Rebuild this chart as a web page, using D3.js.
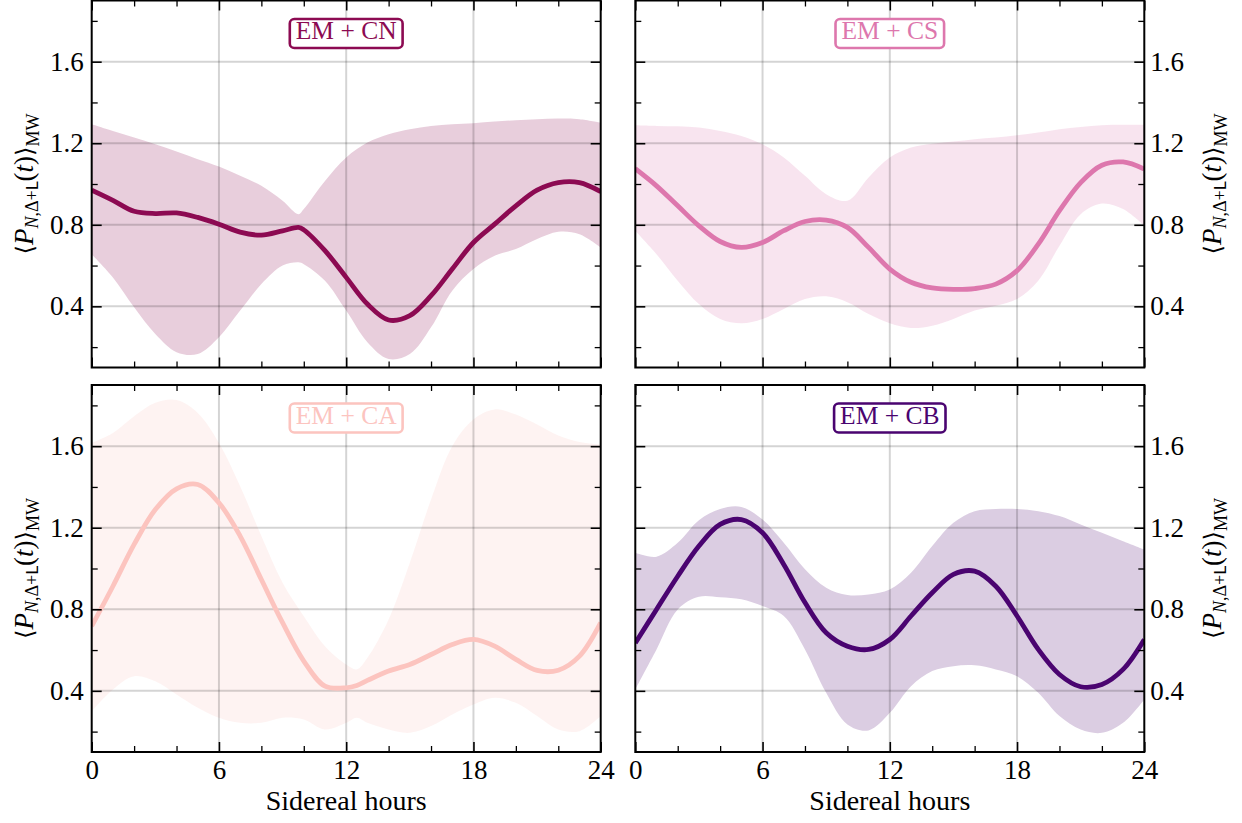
<!DOCTYPE html>
<html>
<head>
  <meta charset="utf-8">
  <title>Sidereal modulation</title>
  <script src="https://d3js.org/d3.v7.min.js"></script>
  <style>
    body { margin: 0; background: #fff; }
    svg text { font-family: "Liberation Serif", "DejaVu Serif", serif; }
  </style>
</head>
<body>
<script>
// panel names and colours
const names = ["EM + CN", "EM + CS", "EM + CA", "EM + CB"];
const colours = ["#8c0a52", "#dd77ad", "#fcc4bf", "#4a0470"];

// hours at which each curve was read
const cnHours = [0,1,2,3,4,5,6,7,8,9,9.75,10,11,12,13,14,15,16,17,18,19,20,21,22,23,24];
const csHours = [0,1,2,3,4,5,6,7,8,9,10,11,12,13,14,15,16,17,18,19,20,21,22,23,24];
const caHours = [0,1,2,3,4,5,6,7,8,9,10,11,12,12.5,13,14,15,16,17,18,19,20,21,22,23,24];
const cbHours = [0,1,2,3,4,5,6,7,8,9,10,11,12,13,14,15,16,17,18,19,20,21,22,23,24];

// EM + CN
const cnMean = [0.97,0.92,0.866,0.855,0.858,0.836,0.803,0.764,0.749,0.77,0.787,0.775,0.673,0.542,0.411,0.333,0.354,0.452,0.583,0.713,0.803,0.893,0.97,1.007,1.007,0.963];
const cnHigh = [1.293,1.26,1.228,1.195,1.159,1.122,1.086,1.04,0.991,0.918,0.852,0.877,1.015,1.13,1.203,1.244,1.269,1.285,1.293,1.298,1.306,1.313,1.318,1.321,1.318,1.301];
const cnLow  = [0.656,0.542,0.395,0.264,0.175,0.166,0.248,0.379,0.509,0.6,0.616,0.607,0.526,0.379,0.224,0.142,0.166,0.297,0.477,0.583,0.648,0.681,0.73,0.766,0.754,0.689];

// EM + CS
const csMean = [1.075,0.991,0.893,0.795,0.718,0.689,0.713,0.771,0.816,0.823,0.787,0.689,0.583,0.518,0.49,0.483,0.487,0.509,0.575,0.705,0.869,1.007,1.092,1.108,1.073];
const csHigh = [1.288,1.285,1.283,1.277,1.26,1.236,1.195,1.13,1.04,0.95,0.918,1.032,1.13,1.179,1.198,1.208,1.22,1.228,1.239,1.252,1.269,1.28,1.288,1.29,1.29];
const csLow  = [0.771,0.656,0.526,0.411,0.338,0.317,0.338,0.387,0.436,0.449,0.42,0.362,0.317,0.294,0.305,0.338,0.379,0.403,0.436,0.526,0.697,0.852,0.904,0.877,0.795];

// EM + CA
const caMean = [0.717,0.913,1.118,1.289,1.391,1.412,1.322,1.159,0.946,0.734,0.546,0.423,0.415,0.426,0.451,0.497,0.529,0.578,0.627,0.652,0.619,0.554,0.5,0.501,0.57,0.734];
const caHigh = [1.616,1.665,1.747,1.813,1.826,1.763,1.616,1.404,1.159,0.93,0.766,0.619,0.529,0.505,0.562,0.75,1.028,1.338,1.6,1.731,1.78,1.755,1.706,1.652,1.62,1.608];
const caLow  = [0.30,0.407,0.472,0.447,0.382,0.317,0.268,0.243,0.243,0.268,0.259,0.21,0.243,0.268,0.243,0.21,0.194,0.227,0.284,0.333,0.366,0.341,0.276,0.21,0.202,0.276];

// EM + CB
const cbMean = [0.635,0.799,0.962,1.11,1.216,1.24,1.175,1.02,0.833,0.685,0.619,0.603,0.652,0.767,0.881,0.971,0.987,0.913,0.767,0.603,0.48,0.42,0.431,0.505,0.652];
const cbHigh = [1.077,1.058,1.126,1.237,1.292,1.302,1.24,1.126,0.996,0.906,0.87,0.873,0.897,0.979,1.11,1.224,1.281,1.292,1.292,1.281,1.257,1.216,1.175,1.134,1.093];
const cbLow  = [0.407,0.603,0.799,0.861,0.859,0.849,0.816,0.767,0.603,0.39,0.235,0.206,0.292,0.423,0.497,0.521,0.525,0.505,0.472,0.39,0.276,0.21,0.194,0.243,0.358];

// ticks
const xMajor = [0, 6, 12, 18, 24];
const xMinor = [2, 4, 8, 10, 14, 16, 20, 22];
const yMajor = [0.4, 0.8, 1.2, 1.6];
const yMinor = [0.2, 0.6, 1.0, 1.4, 1.8];
const xLabel = "Sidereal hours";

const series = [
  { hours: cnHours, mean: cnMean, low: cnLow, high: cnHigh },
  { hours: csHours, mean: csMean, low: csLow, high: csHigh },
  { hours: caHours, mean: caMean, low: caLow, high: caHigh },
  { hours: cbHours, mean: cbMean, low: cbLow, high: cbHigh }
];

const W = 1242, H = 823;
const panelW = 509, panelH = 367;
const lefts = [91.7, 635.3];
const tops = [0.5, 385];
const serif = '"Liberation Serif", "DejaVu Serif", serif';

const svg = d3.select("body").append("svg")
  .attr("width", W).attr("height", H);

series.forEach(function (s, i) {
  const col = i % 2, row = Math.floor(i / 2);
  const g = svg.append("g")
    .attr("transform", "translate(" + lefts[col] + "," + tops[row] + ")");

  const x = d3.scaleLinear().domain([0, 24]).range([0, panelW]);
  const y = d3.scaleLinear().domain([0.1, 1.9]).range([panelH, 0]);

  g.append("clipPath").attr("id", "clip" + i)
    .append("rect").attr("width", panelW).attr("height", panelH);

  const pts = s.hours.map((h, k) => ({ h: h, m: s.mean[k], lo: s.low[k], hi: s.high[k] }));

  const area = d3.area()
    .curve(d3.curveCatmullRom.alpha(0.5))
    .x(d => x(d.h)).y0(d => y(d.lo)).y1(d => y(d.hi));
  const line = d3.line()
    .curve(d3.curveCatmullRom.alpha(0.5))
    .x(d => x(d.h)).y(d => y(d.m));

  const inner = g.append("g").attr("clip-path", "url(#clip" + i + ")");

  inner.append("path").datum(pts)
    .attr("d", area)
    .attr("fill", colours[i]).attr("fill-opacity", 0.2);

  // grid
  inner.selectAll(".gx").data(xMajor.slice(1, -1)).enter().append("line")
    .attr("x1", d => x(d)).attr("x2", d => x(d))
    .attr("y1", 0).attr("y2", panelH)
    .attr("stroke", "#000").attr("stroke-opacity", 0.17).attr("stroke-width", 2);
  inner.selectAll(".gy").data(yMajor).enter().append("line")
    .attr("y1", d => y(d)).attr("y2", d => y(d))
    .attr("x1", 0).attr("x2", panelW)
    .attr("stroke", "#000").attr("stroke-opacity", 0.17).attr("stroke-width", 2);

  inner.append("path").datum(pts)
    .attr("d", line)
    .attr("fill", "none").attr("stroke", colours[i]).attr("stroke-width", 4.8);

  // label box
  const lab = g.append("text")
    .attr("x", x(12)).attr("y", 38.5)
    .attr("text-anchor", "middle")
    .attr("font-size", 25.5)
    .attr("fill", colours[i])
    .text(names[i]);
  const tw = lab.node().getComputedTextLength();
  g.insert("rect", "text")
    .attr("x", x(12) - tw / 2 - 6).attr("y", 18.5)
    .attr("width", tw + 12).attr("height", 29)
    .attr("rx", 4.5)
    .attr("fill", "#fff")
    .attr("stroke", colours[i]).attr("stroke-width", 2.6);

  // axes, ticks inward on all sides
  function styleAxis(a) {
    a.select(".domain").remove();
    a.attr("font-size", null).attr("font-family", null);
    a.selectAll("text").attr("fill", "#000")
      .style("font-family", serif).style("font-size", "27px");
    a.selectAll("line").attr("stroke", "#000");
  }
  const bottomLab = row === 1;
  const ax = [
    [d3.axisBottom(x).tickValues(xMajor).tickSize(-10).tickPadding(8).tickFormat(bottomLab ? d3.format("d") : ""), [0, panelH], 1.6],
    [d3.axisBottom(x).tickValues(xMinor).tickSize(-6).tickFormat(""), [0, panelH], 1.3],
    [d3.axisTop(x).tickValues(xMajor).tickSize(-10).tickFormat(""), [0, 0], 1.6],
    [d3.axisTop(x).tickValues(xMinor).tickSize(-6).tickFormat(""), [0, 0], 1.3],
    [d3.axisLeft(y).tickValues(yMajor).tickSize(-10).tickPadding(8).tickFormat(col === 0 ? d3.format(".1f") : ""), [0, 0], 1.6],
    [d3.axisLeft(y).tickValues(yMinor).tickSize(-6).tickFormat(""), [0, 0], 1.3],
    [d3.axisRight(y).tickValues(yMajor).tickSize(-10).tickPadding(6).tickFormat(col === 1 ? d3.format(".1f") : ""), [panelW, 0], 1.6],
    [d3.axisRight(y).tickValues(yMinor).tickSize(-6).tickFormat(""), [panelW, 0], 1.3]
  ];
  ax.forEach(function (a) {
    const ga = g.append("g").attr("transform", "translate(" + a[1][0] + "," + a[1][1] + ")").call(a[0]);
    styleAxis(ga);
    ga.selectAll("line").attr("stroke-width", a[2]);
  });

  g.append("rect")
    .attr("width", panelW).attr("height", panelH)
    .attr("fill", "none").attr("stroke", "#000").attr("stroke-width", 2);

  // y label
  const yl = g.append("text")
    .attr("transform", "translate(" + (col === 0 ? -59 : panelW + 77) + "," + (panelH / 2) + ") rotate(-90)")
    .attr("text-anchor", "middle")
    .attr("font-size", 27)
    .attr("fill", "#000");
  yl.append("tspan").attr("font-family", "DejaVu Serif, serif").attr("font-size", 24).text("\u27E8");
  yl.append("tspan").attr("font-style", "italic").text("P");
  yl.append("tspan").attr("font-size", 18).attr("dy", 5).attr("font-style", "italic").text("N");
  yl.append("tspan").attr("font-size", 18).text(",\u0394+");
  yl.append("tspan").attr("font-size", 16).attr("font-family", "DejaVu Sans, sans-serif").text("L");
  yl.append("tspan").attr("dy", -5).text("(");
  yl.append("tspan").attr("font-style", "italic").text("t");
  yl.append("tspan").text(")");
  yl.append("tspan").attr("font-family", "DejaVu Serif, serif").attr("font-size", 24).text("\u27E9");
  yl.append("tspan").attr("font-size", 18).attr("dy", 6).text("MW");

  if (bottomLab) {
    g.append("text")
      .attr("x", panelW / 2).attr("y", panelH + 58)
      .attr("text-anchor", "middle")
      .attr("font-size", 28)
      .text(xLabel);
  }
});
</script>
</body>
</html>
